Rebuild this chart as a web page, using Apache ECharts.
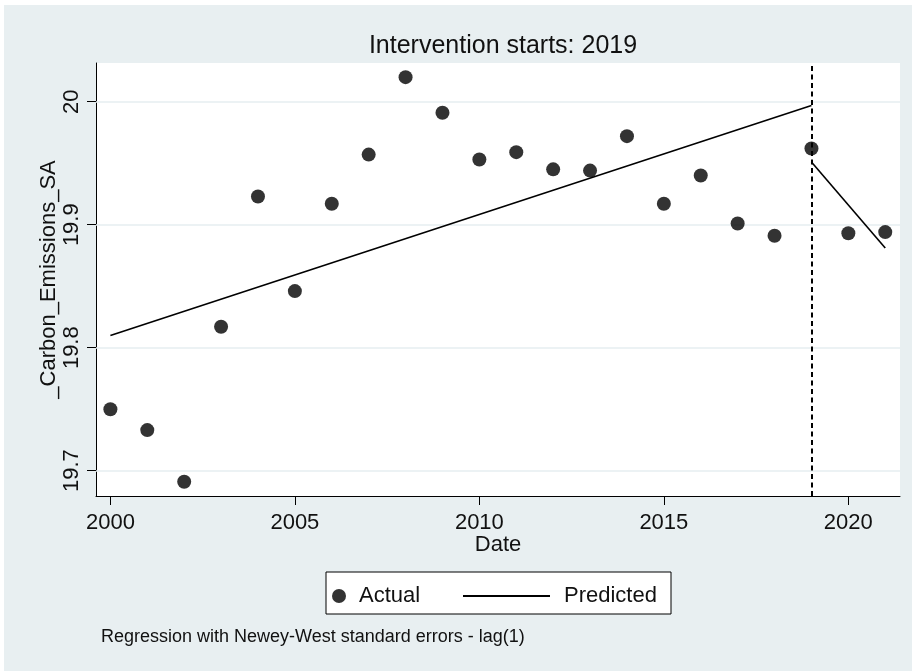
<!DOCTYPE html>
<html>
<head>
<meta charset="utf-8">
<script src="https://cdn.jsdelivr.net/npm/echarts@6/dist/echarts.min.js"></script>
<style>
html,body{margin:0;padding:0;background:#ffffff;}
#chart{width:912px;height:671px;}
</style>
</head>
<body>
<div id="chart"></div>
<script>
const years = [2000,2001,2002,2003,2004,2005,2006,2007,2008,2009,2010,2011,2012,2013,2014,2015,2016,2017,2018,2019,2020,2021];
const actual = [19.750,19.733,19.691,19.817,19.923,19.846,19.917,19.957,20.020,19.991,19.953,19.959,19.945,19.944,19.972,19.917,19.940,19.901,19.891,19.962,19.893,19.894];
const predPreYears = [2000,2019];
const predPreValues = [19.810,19.997];
const predPostYears = [2019,2021];
const predPostValues = [19.951,19.881];
const interventionYear = 2019;
const xTicks = [2000,2005,2010,2015,2020];
const yTicks = [19.7,19.8,19.9,20];
const titleText = 'Intervention starts: 2019';
const noteText = 'Regression with Newey-West standard errors - lag(1)';
const xName = 'Date';
const yName = '_Carbon_Emissions_SA';

const FONT = 'Liberation Sans, Arial, sans-serif';
const chart = echarts.init(document.getElementById('chart'));
const option = {
  backgroundColor: '#e8eff1',
  animation: false,
  textStyle: {fontFamily: FONT, color: '#000'},
  title: [
    {text: titleText, left: 498, top: 29, textAlign: 'center',
     textStyle: {fontFamily: FONT, fontSize: 25, fontWeight: 'normal', color: '#111'}},
    {text: noteText, left: 96, top: 623,
     textStyle: {fontFamily: FONT, fontSize: 18, fontWeight: 'normal', color: '#111'}}
  ],
  graphic: [
    {type: 'rect', shape: {x: 0, y: 0, width: 912, height: 5}, style: {fill: '#ffffff'}, silent: true},
    {type: 'rect', shape: {x: 0, y: 0, width: 4, height: 671}, style: {fill: '#ffffff'}, silent: true},
    {type: 'rect', shape: {x: 326, y: 572, width: 345, height: 42}, style: {fill: '#ffffff', stroke: '#000', lineWidth: 1}, z: 0, silent: true}
  ],
  legend: [
    {data: ['Actual'], left: 327, top: 580, itemWidth: 26, itemHeight: 14, itemGap: 0,
     textStyle: {fontFamily: FONT, fontSize: 22, color: '#111', padding: [0,0,0,2]}, selectedMode: false, z: 5},
    {data: [{name: 'Predicted', icon: 'rect', itemStyle: {color: '#000'}}], left: 458, top: 580, itemWidth: 87, itemHeight: 2, itemGap: 0,
     textStyle: {fontFamily: FONT, fontSize: 22, color: '#111', padding: [0,0,0,9]}, selectedMode: false, z: 5}
  ],
  grid: {left: 96, right: 12, top: 63, bottom: 175, show: true, backgroundColor: '#ffffff', borderWidth: 0},
  xAxis: {
    type: 'value', min: 1999.61, max: 2021.4,
    name: xName, nameLocation: 'middle', nameGap: 38, nameMoveOverlap: false,
    nameTextStyle: {fontFamily: FONT, fontSize: 22, color: '#111'},
    axisLine: {show: true, lineStyle: {color: '#000', width: 1}},
    axisTick: {show: true, length: 9, customValues: xTicks, lineStyle: {color: '#000'}},
    axisLabel: {customValues: xTicks, fontSize: 22, color: '#111', margin: 16, fontFamily: FONT,
                formatter: v => String(v)},
    splitLine: {show: false}
  },
  yAxis: {
    type: 'value', min: 19.6794, max: 20.0315,
    name: yName, nameLocation: 'middle', nameGap: 36, nameRotate: 90, nameMoveOverlap: false,
    nameTextStyle: {fontFamily: FONT, fontSize: 22, color: '#111'},
    axisLine: {show: true, lineStyle: {color: '#000', width: 1}},
    axisTick: {show: true, length: 9, customValues: yTicks, lineStyle: {color: '#000'}},
    axisLabel: {customValues: yTicks, fontSize: 22, color: '#111', margin: 13, rotate: 90, fontFamily: FONT,
                formatter: v => String(v)},
    splitLine: {show: false}
  },
  series: [
    {
      name: 'Actual', type: 'scatter', symbol: 'circle', symbolSize: 14,
      itemStyle: {color: '#000'},
      data: years.map((y, i) => [y, actual[i]]),
      z: 4,
      markLine: {
        silent: true, symbol: 'none', label: {show: false},
        lineStyle: {color: '#e6eef1', width: 1.5, type: 'solid'},
        data: yTicks.map(v => ({yAxis: v})),
        z: 1
      }
    },
    {
      name: 'Predicted', type: 'line', symbol: 'none',
      lineStyle: {color: '#000', width: 1.6},
      itemStyle: {color: '#000'},
      data: predPreYears.map((y, i) => [y, predPreValues[i]]),
      z: 3,
      markLine: {
        silent: true, symbol: 'none', label: {show: false},
        lineStyle: {color: '#000', width: 2, type: [5, 3.5]},
        data: [{xAxis: interventionYear}]
      }
    },
    {
      name: 'Predicted', type: 'line', symbol: 'none',
      lineStyle: {color: '#000', width: 1.6},
      itemStyle: {color: '#000'},
      data: predPostYears.map((y, i) => [y, predPostValues[i]]),
      z: 3
    }
  ]
};
chart.setOption(option);
</script>
</body>
</html>
